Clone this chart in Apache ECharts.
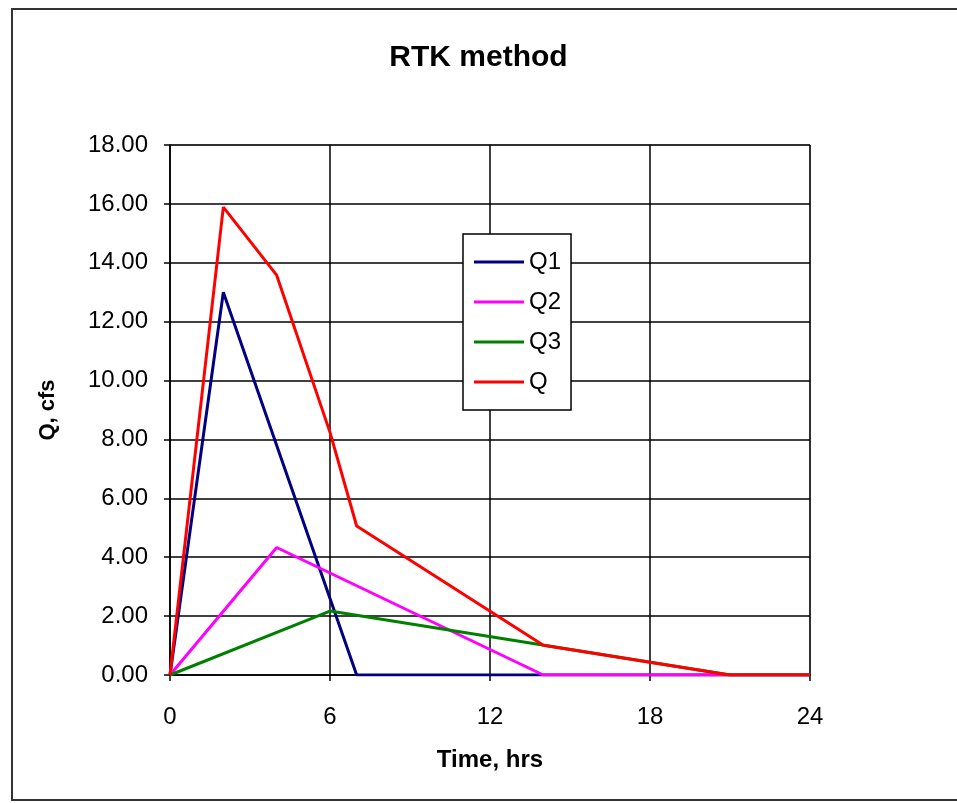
<!DOCTYPE html>
<html>
<head>
<meta charset="utf-8">
<script src="https://cdn.jsdelivr.net/npm/echarts@6/dist/echarts.min.js"></script>
<style>
html,body{margin:0;padding:0;background:#fff;}
#chart{width:957px;height:803px;}
</style>
</head>
<body>
<div id="chart"></div>
<script>
// Data (time in hrs, Q in cfs)
const q1Time = [0, 2, 7, 24];
const q1Flow = [0, 13.0, 0, 0];
const q2Time = [0, 4, 14, 24];
const q2Flow = [0, 4.33, 0, 0];
const q3Time = [0, 6, 21, 24];
const q3Flow = [0, 2.17, 0, 0];
const qTime = [0, 2, 4, 6, 7, 14, 21, 24];
const qFlow = [0, 15.89, 13.58, 8.24, 5.06, 1.01, 0, 0];
const seriesNames = ['Q1', 'Q2', 'Q3', 'Q'];
const seriesColors = ['#000080', '#FF00FF', '#008000', '#FF0000'];

function pairs(xs, ys) { return xs.map((x, i) => [x, ys[i]]); }
const allData = [pairs(q1Time, q1Flow), pairs(q2Time, q2Flow), pairs(q3Time, q3Flow), pairs(qTime, qFlow)];

const FONT = '"Liberation Sans", Arial, sans-serif';
const chart = echarts.init(document.getElementById('chart'), null, {renderer: 'canvas'});
chart.setOption({
  animation: false,
  backgroundColor: '#fff',
  textStyle: {fontFamily: FONT, color: '#000'},
  title: {
    text: 'RTK method', left: 'center', top: 38,
    textStyle: {fontFamily: FONT, fontSize: 30, fontWeight: 'bold', color: '#000'}
  },
  graphic: [{
    type: 'rect', z: 100, silent: true,
    shape: {x: 12, y: 9, width: 980, height: 791},
    style: {fill: 'none', stroke: '#333', lineWidth: 2}
  }],
  grid: {left: 170, right: 147, top: 145, bottom: 128, show: true, borderColor: '#808080', borderWidth: 1},
  legend: {
    orient: 'vertical', left: 463, top: 234,
    data: seriesNames,
    icon: 'rect', itemWidth: 50, itemHeight: 3, itemGap: 16,
    padding: [16, 10, 16, 11],
    borderColor: '#000', borderWidth: 1.5, backgroundColor: '#fff',
    textStyle: {fontFamily: FONT, fontSize: 24, lineHeight: 24, color: '#000'}
  },
  xAxis: {
    type: 'value', min: 0, max: 24, interval: 6,
    name: 'Time, hrs', nameLocation: 'middle', nameGap: 73,
    nameTextStyle: {fontFamily: FONT, fontSize: 24, fontWeight: 'bold', color: '#000'},
    axisLine: {show: true, lineStyle: {color: '#000', width: 1.5}},
    axisTick: {show: true, inside: false, length: 6, lineStyle: {color: '#000', width: 1.5}},
    axisLabel: {fontFamily: FONT, fontSize: 24, color: '#000', margin: 30},
    splitLine: {show: true, lineStyle: {color: '#000', width: 1.5}}
  },
  yAxis: {
    type: 'value', min: 0, max: 18, interval: 2,
    name: 'Q, cfs', nameLocation: 'middle', nameGap: 111, nameRotate: 90,
    nameTextStyle: {fontFamily: FONT, fontSize: 22, fontWeight: 'bold', color: '#000'},
    axisLine: {show: true, lineStyle: {color: '#000', width: 1.5}},
    axisTick: {show: true, inside: false, length: 6, lineStyle: {color: '#000', width: 1.5}},
    axisLabel: {fontFamily: FONT, fontSize: 24, color: '#000', margin: 22, formatter: v => v.toFixed(2)},
    splitLine: {show: true, lineStyle: {color: '#000', width: 1.5}}
  },
  series: seriesNames.map((n, i) => ({
    name: n, type: 'line', data: allData[i], showSymbol: false, symbol: 'none',
    lineStyle: {color: seriesColors[i], width: 3}, itemStyle: {color: seriesColors[i]},
    z: 3 + i
  }))
});
</script>
</body>
</html>
